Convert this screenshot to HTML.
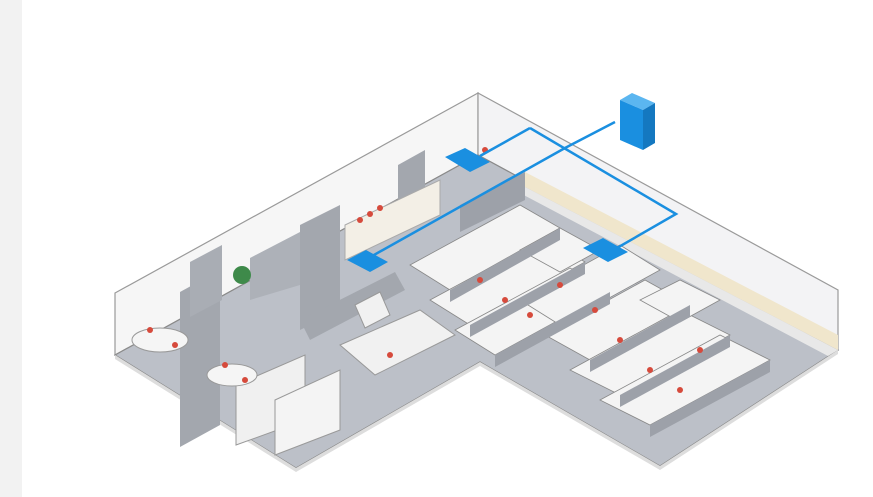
<!DOCTYPE html>
<html><head><meta charset="utf-8"><style>
html,body{margin:0;padding:0;background:#fff;}
svg{display:block}
</style></head><body>
<svg width="873" height="497" viewBox="0 0 873 497" xmlns="http://www.w3.org/2000/svg">
<rect width="873" height="497" fill="#ffffff"/>
<rect x="0" y="0" width="22" height="497" fill="#f2f2f2"/>
<!-- walls -->
<polygon points="115,293 478,93 478,155 115,355" fill="#f6f6f6" stroke="#9a9a9a" stroke-width="1.2"/>
<polygon points="478,93 838,290 838,350 478,155" fill="#f3f3f5" stroke="#9a9a9a" stroke-width="1.2"/>
<!-- floor -->
<polygon points="478,155 115,355 296,468 480,362 660,466 838,350" fill="#bcc0c8" stroke="#8a8a8a" stroke-width="1.2"/>
<polygon points="115,355 296,468 296,472 115,359" fill="#ddd"/>
<polygon points="296,468 480,362 480,366 296,472" fill="#ddd"/>
<polygon points="480,362 660,466 660,470 480,366" fill="#ddd"/>
<polygon points="660,466 838,350 838,354 660,470" fill="#ddd"/>
<!-- shelf band on right wall -->
<polygon points="525,172 838,335 838,350 525,187" fill="#f0e6cc"/>
<polygon points="525,187 838,350 828,356 518,192" fill="#e8e8e8"/>
<!-- left room partitions -->
<polygon points="180,292 220,270 220,425 180,447" fill="#a3a7ae"/>
<polygon points="190,262 222,245 222,300 190,317" fill="#a9adb4"/>
<polygon points="300,225 340,205 340,310 300,330" fill="#a3a7ae"/>
<polygon points="398,165 425,150 425,220 398,235" fill="#a3a7ae"/>
<polygon points="250,258 300,232 300,285 250,300" fill="#adb1b8"/>
<!-- storage cabinets -->
<polygon points="236,385 305,355 305,420 236,445" fill="#f0f0f0" stroke="#999"/>
<polygon points="275,400 340,370 340,430 275,455" fill="#f4f4f4" stroke="#999"/>
<polygon points="345,225 440,180 440,215 345,260" fill="#f3efe6" stroke="#aaa"/>
<!-- tables -->
<ellipse cx="160" cy="340" rx="28" ry="12" fill="#f5f5f5" stroke="#999"/>
<ellipse cx="232" cy="375" rx="25" ry="11" fill="#f5f5f5" stroke="#999"/>
<!-- middle workstations -->
<polygon points="300,320 395,272 405,290 310,340" fill="#a3a7ae"/>
<polygon points="340,345 420,310 455,335 375,375" fill="#f1f1f1" stroke="#999"/>
<polygon points="355,305 380,292 390,315 365,328" fill="#f1f1f1" stroke="#999"/>
<!-- main office desk clusters -->
<g fill="#f4f4f4" stroke="#888" stroke-width="0.8">
<polygon points="410,265 520,205 560,228 450,290"/>
<polygon points="430,300 545,238 585,262 470,325"/>
<polygon points="455,330 570,268 610,292 495,355"/>
<polygon points="520,300 620,245 660,270 560,325"/>
<polygon points="545,335 645,280 690,305 590,360"/>
<polygon points="570,370 680,310 730,335 620,395"/>
<polygon points="600,400 720,335 770,360 650,425"/>
<polygon points="520,250 560,228 600,250 560,272"/>
<polygon points="640,300 680,280 720,300 680,322"/>
</g>
<g fill="#9da1a9">
<polygon points="450,290 560,228 560,240 450,302"/>
<polygon points="470,325 585,262 585,274 470,337"/>
<polygon points="495,355 610,292 610,304 495,367"/>
<polygon points="590,360 690,305 690,317 590,372"/>
<polygon points="620,395 730,335 730,347 620,407"/>
<polygon points="650,425 770,360 770,372 650,437"/>
<polygon points="460,205 525,172 525,200 460,232"/>
</g>
<g fill="#d64a3c">
<circle cx="480" cy="280" r="3"/><circle cx="505" cy="300" r="3"/><circle cx="530" cy="315" r="3"/>
<circle cx="560" cy="285" r="3"/><circle cx="595" cy="310" r="3"/><circle cx="620" cy="340" r="3"/>
<circle cx="650" cy="370" r="3"/><circle cx="680" cy="390" r="3"/><circle cx="700" cy="350" r="3"/>
<circle cx="150" cy="330" r="3"/><circle cx="175" cy="345" r="3"/><circle cx="225" cy="365" r="3"/>
<circle cx="245" cy="380" r="3"/><circle cx="360" cy="220" r="3"/><circle cx="370" cy="214" r="3"/>
<circle cx="380" cy="208" r="3"/><circle cx="485" cy="150" r="3"/><circle cx="390" cy="355" r="3"/>
</g>
<!-- blue network -->
<g stroke="#1a8fe0" stroke-width="2.5" fill="none">
<polyline points="615,122 565,148 365,260"/>
<polyline points="530,128 676,214 610,252"/>
<polyline points="530,128 480,156"/>
</g>
<polygon points="445,157 465,148 490,162 470,172" fill="#1a8fe0"/>
<polygon points="347,260 366,250 388,262 370,272" fill="#1a8fe0"/>
<polygon points="583,248 603,238 628,252 608,262" fill="#1a8fe0"/>
<!-- server -->
<polygon points="620,100 632,93 655,103 643,110" fill="#5bb6f0"/>
<polygon points="620,100 643,110 643,150 620,140" fill="#1a8fe0"/>
<polygon points="643,110 655,103 655,143 643,150" fill="#1478c0"/>
<!-- plant -->
<circle cx="242" cy="275" r="9" fill="#3e8a4a"/>
</svg>
</body></html>
